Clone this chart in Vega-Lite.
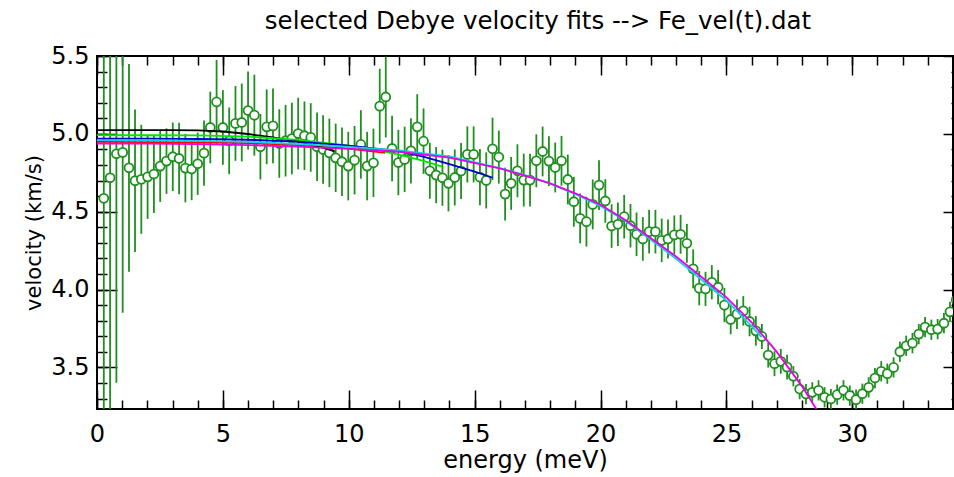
{
  "$schema": "https://vega.github.io/schema/vega-lite/v6.json",
  "width": 856,
  "height": 353,
  "autosize": {"type": "none"},
  "padding": {"left": 97, "top": 56, "right": 1, "bottom": 68},
  "background": "white",
  "title": {"text": "selected Debye velocity fits --> Fe_vel(t).dat", "font": "DejaVu Sans", "fontSize": 24.5, "fontWeight": "normal", "color": "black", "anchor": "middle", "offset": 10, "dx": 13},
  "config": {
    "view": {"stroke": "black", "strokeWidth": 2},
    "axis": {"domain": false, "grid": false, "tickColor": "black", "tickWidth": 1.5, "labelFont": "DejaVu Sans", "titleFont": "DejaVu Sans", "labelColor": "black", "titleColor": "black", "titleFontWeight": "normal", "labelFlush": false, "labelOverlap": false, "zindex": 1}
  },
  "datasets": {
    "pts": [
      {"E":0.27,"v":4.586,"lo":2.986,"hi":6.186},
      {"E":0.52,"v":4.718,"lo":3.118,"hi":6.318},
      {"E":0.77,"v":4.872,"lo":3.402,"hi":6.342},
      {"E":1.02,"v":4.881,"lo":3.851,"hi":5.911},
      {"E":1.27,"v":4.782,"lo":4.115,"hi":5.449},
      {"E":1.51,"v":4.699,"lo":4.242,"hi":5.156},
      {"E":1.76,"v":4.708,"lo":4.358,"hi":5.058},
      {"E":2.01,"v":4.724,"lo":4.454,"hi":4.994},
      {"E":2.26,"v":4.742,"lo":4.492,"hi":4.992},
      {"E":2.51,"v":4.793,"lo":4.563,"hi":5.023},
      {"E":2.76,"v":4.825,"lo":4.615,"hi":5.035},
      {"E":3.01,"v":4.853,"lo":4.633,"hi":5.073},
      {"E":3.26,"v":4.842,"lo":4.612,"hi":5.072},
      {"E":3.51,"v":4.78,"lo":4.56,"hi":5.0},
      {"E":3.76,"v":4.774,"lo":4.574,"hi":4.974},
      {"E":4.0,"v":4.808,"lo":4.608,"hi":5.008},
      {"E":4.25,"v":4.876,"lo":4.666,"hi":5.086},
      {"E":4.5,"v":5.041,"lo":4.811,"hi":5.271},
      {"E":4.75,"v":5.205,"lo":4.935,"hi":5.475},
      {"E":5.0,"v":5.041,"lo":4.801,"hi":5.281},
      {"E":5.25,"v":4.955,"lo":4.741,"hi":5.169},
      {"E":5.5,"v":5.067,"lo":4.827,"hi":5.307},
      {"E":5.75,"v":5.073,"lo":4.823,"hi":5.323},
      {"E":6.0,"v":5.15,"lo":4.9,"hi":5.4},
      {"E":6.25,"v":5.12,"lo":4.86,"hi":5.38},
      {"E":6.49,"v":4.917,"lo":4.707,"hi":5.127},
      {"E":6.74,"v":5.045,"lo":4.805,"hi":5.285},
      {"E":6.99,"v":5.051,"lo":4.811,"hi":5.291},
      {"E":7.24,"v":4.938,"lo":4.718,"hi":5.158},
      {"E":7.49,"v":4.956,"lo":4.726,"hi":5.186},
      {"E":7.74,"v":4.97,"lo":4.74,"hi":5.2},
      {"E":7.99,"v":5.002,"lo":4.772,"hi":5.232},
      {"E":8.24,"v":4.988,"lo":4.768,"hi":5.208},
      {"E":8.49,"v":4.977,"lo":4.757,"hi":5.197},
      {"E":8.74,"v":4.917,"lo":4.697,"hi":5.137},
      {"E":8.98,"v":4.9,"lo":4.68,"hi":5.12},
      {"E":9.23,"v":4.878,"lo":4.658,"hi":5.098},
      {"E":9.48,"v":4.846,"lo":4.626,"hi":5.066},
      {"E":9.73,"v":4.821,"lo":4.601,"hi":5.041},
      {"E":9.98,"v":4.793,"lo":4.573,"hi":5.013},
      {"E":10.23,"v":4.831,"lo":4.611,"hi":5.051},
      {"E":10.48,"v":4.932,"lo":4.712,"hi":5.152},
      {"E":10.73,"v":4.793,"lo":4.573,"hi":5.013},
      {"E":10.98,"v":4.814,"lo":4.594,"hi":5.034},
      {"E":11.23,"v":5.178,"lo":4.938,"hi":5.418},
      {"E":11.47,"v":5.237,"lo":4.977,"hi":5.497},
      {"E":11.72,"v":4.906,"lo":4.696,"hi":5.116},
      {"E":11.97,"v":4.816,"lo":4.606,"hi":5.026},
      {"E":12.22,"v":4.836,"lo":4.626,"hi":5.046},
      {"E":12.47,"v":4.891,"lo":4.681,"hi":5.101},
      {"E":12.72,"v":5.045,"lo":4.835,"hi":5.255},
      {"E":12.97,"v":4.953,"lo":4.743,"hi":5.163},
      {"E":13.22,"v":4.763,"lo":4.583,"hi":4.943},
      {"E":13.47,"v":4.735,"lo":4.555,"hi":4.915},
      {"E":13.72,"v":4.718,"lo":4.538,"hi":4.898},
      {"E":13.96,"v":4.682,"lo":4.502,"hi":4.862},
      {"E":14.21,"v":4.72,"lo":4.54,"hi":4.9},
      {"E":14.46,"v":4.761,"lo":4.581,"hi":4.941},
      {"E":14.71,"v":4.868,"lo":4.688,"hi":5.048},
      {"E":14.96,"v":4.868,"lo":4.688,"hi":5.048},
      {"E":15.21,"v":4.722,"lo":4.542,"hi":4.902},
      {"E":15.46,"v":4.701,"lo":4.521,"hi":4.881},
      {"E":15.71,"v":4.904,"lo":4.704,"hi":5.104},
      {"E":15.96,"v":4.851,"lo":4.681,"hi":5.021},
      {"E":16.21,"v":4.613,"lo":4.443,"hi":4.783},
      {"E":16.45,"v":4.682,"lo":4.512,"hi":4.852},
      {"E":16.7,"v":4.763,"lo":4.593,"hi":4.933},
      {"E":16.95,"v":4.703,"lo":4.533,"hi":4.873},
      {"E":17.2,"v":4.703,"lo":4.533,"hi":4.873},
      {"E":17.45,"v":4.827,"lo":4.657,"hi":4.997},
      {"E":17.7,"v":4.887,"lo":4.727,"hi":5.047},
      {"E":17.95,"v":4.825,"lo":4.665,"hi":4.985},
      {"E":18.2,"v":4.784,"lo":4.624,"hi":4.944},
      {"E":18.45,"v":4.827,"lo":4.667,"hi":4.987},
      {"E":18.7,"v":4.707,"lo":4.547,"hi":4.867},
      {"E":18.94,"v":4.564,"lo":4.404,"hi":4.724},
      {"E":19.19,"v":4.457,"lo":4.297,"hi":4.617},
      {"E":19.44,"v":4.436,"lo":4.276,"hi":4.596},
      {"E":19.69,"v":4.547,"lo":4.387,"hi":4.707},
      {"E":19.94,"v":4.671,"lo":4.511,"hi":4.831},
      {"E":20.19,"v":4.569,"lo":4.429,"hi":4.709},
      {"E":20.44,"v":4.408,"lo":4.268,"hi":4.548},
      {"E":20.69,"v":4.419,"lo":4.279,"hi":4.559},
      {"E":20.94,"v":4.468,"lo":4.328,"hi":4.608},
      {"E":21.19,"v":4.41,"lo":4.27,"hi":4.55},
      {"E":21.43,"v":4.355,"lo":4.215,"hi":4.495},
      {"E":21.68,"v":4.325,"lo":4.185,"hi":4.465},
      {"E":21.93,"v":4.372,"lo":4.232,"hi":4.512},
      {"E":22.18,"v":4.372,"lo":4.232,"hi":4.512},
      {"E":22.43,"v":4.316,"lo":4.176,"hi":4.456},
      {"E":22.68,"v":4.325,"lo":4.2,"hi":4.45},
      {"E":22.93,"v":4.351,"lo":4.226,"hi":4.476},
      {"E":23.18,"v":4.355,"lo":4.23,"hi":4.48},
      {"E":23.43,"v":4.297,"lo":4.172,"hi":4.422},
      {"E":23.68,"v":4.133,"lo":4.008,"hi":4.258},
      {"E":23.92,"v":4.009,"lo":3.899,"hi":4.119},
      {"E":24.17,"v":4.004,"lo":3.894,"hi":4.114},
      {"E":24.42,"v":4.047,"lo":3.937,"hi":4.157},
      {"E":24.67,"v":4.015,"lo":3.905,"hi":4.125},
      {"E":24.92,"v":3.9,"lo":3.79,"hi":4.01},
      {"E":25.17,"v":3.808,"lo":3.713,"hi":3.903},
      {"E":25.42,"v":3.842,"lo":3.747,"hi":3.937},
      {"E":25.67,"v":3.863,"lo":3.768,"hi":3.958},
      {"E":25.92,"v":3.795,"lo":3.7,"hi":3.89},
      {"E":26.17,"v":3.735,"lo":3.64,"hi":3.83},
      {"E":26.41,"v":3.699,"lo":3.619,"hi":3.779},
      {"E":26.66,"v":3.579,"lo":3.499,"hi":3.659},
      {"E":26.91,"v":3.524,"lo":3.444,"hi":3.604},
      {"E":27.16,"v":3.539,"lo":3.459,"hi":3.619},
      {"E":27.41,"v":3.502,"lo":3.422,"hi":3.582},
      {"E":27.66,"v":3.443,"lo":3.378,"hi":3.508},
      {"E":27.91,"v":3.361,"lo":3.296,"hi":3.426},
      {"E":28.16,"v":3.329,"lo":3.264,"hi":3.394},
      {"E":28.41,"v":3.34,"lo":3.275,"hi":3.405},
      {"E":28.66,"v":3.353,"lo":3.288,"hi":3.418},
      {"E":28.9,"v":3.308,"lo":3.243,"hi":3.373},
      {"E":29.15,"v":3.297,"lo":3.232,"hi":3.362},
      {"E":29.4,"v":3.325,"lo":3.26,"hi":3.39},
      {"E":29.65,"v":3.353,"lo":3.288,"hi":3.418},
      {"E":29.9,"v":3.319,"lo":3.254,"hi":3.384},
      {"E":30.15,"v":3.293,"lo":3.228,"hi":3.358},
      {"E":30.4,"v":3.331,"lo":3.266,"hi":3.396},
      {"E":30.65,"v":3.372,"lo":3.307,"hi":3.437},
      {"E":30.9,"v":3.432,"lo":3.367,"hi":3.497},
      {"E":31.15,"v":3.475,"lo":3.41,"hi":3.54},
      {"E":31.39,"v":3.46,"lo":3.395,"hi":3.525},
      {"E":31.64,"v":3.5,"lo":3.435,"hi":3.565},
      {"E":31.89,"v":3.601,"lo":3.536,"hi":3.666},
      {"E":32.14,"v":3.639,"lo":3.574,"hi":3.704},
      {"E":32.39,"v":3.656,"lo":3.591,"hi":3.721},
      {"E":32.64,"v":3.714,"lo":3.649,"hi":3.779},
      {"E":32.89,"v":3.759,"lo":3.694,"hi":3.824},
      {"E":33.14,"v":3.742,"lo":3.677,"hi":3.807},
      {"E":33.39,"v":3.746,"lo":3.681,"hi":3.811},
      {"E":33.64,"v":3.784,"lo":3.719,"hi":3.849},
      {"E":33.88,"v":3.857,"lo":3.792,"hi":3.922},
      {"E":34.13,"v":3.934,"lo":3.869,"hi":3.999}
    ],
    "fits": [
      {"fit":"red","E":0,"v":4.948},{"fit":"red","E":2,"v":4.947},{"fit":"red","E":4,"v":4.945},{"fit":"red","E":6,"v":4.94},{"fit":"red","E":8,"v":4.928},{"fit":"red","E":10,"v":4.905},{"fit":"red","E":11.45,"v":4.878},
      {"fit":"black","E":0,"v":5.024},{"fit":"black","E":3,"v":5.024},{"fit":"black","E":4,"v":5.022},{"fit":"black","E":5,"v":5.015},{"fit":"black","E":6,"v":4.999},{"fit":"black","E":7,"v":4.977},{"fit":"black","E":8,"v":4.948},{"fit":"black","E":9,"v":4.91},{"fit":"black","E":9.44,"v":4.887},
      {"fit":"green","E":0,"v":4.992},{"fit":"green","E":2,"v":4.991},{"fit":"green","E":4,"v":4.99},{"fit":"green","E":6,"v":4.982},{"fit":"green","E":8,"v":4.962},{"fit":"green","E":10,"v":4.925},{"fit":"green","E":11,"v":4.9},{"fit":"green","E":12,"v":4.866},{"fit":"green","E":13,"v":4.825},{"fit":"green","E":13.7,"v":4.79},
      {"fit":"blue","E":0,"v":4.97},{"fit":"blue","E":2,"v":4.969},{"fit":"blue","E":4,"v":4.967},{"fit":"blue","E":6,"v":4.962},{"fit":"blue","E":8,"v":4.95},{"fit":"blue","E":10,"v":4.925},{"fit":"blue","E":12,"v":4.889},{"fit":"blue","E":13,"v":4.852},{"fit":"blue","E":14,"v":4.806},{"fit":"blue","E":15,"v":4.757},{"fit":"blue","E":15.72,"v":4.718},
      {"fit":"cyan","E":0,"v":4.96},{"fit":"cyan","E":2,"v":4.959},{"fit":"cyan","E":4,"v":4.955},{"fit":"cyan","E":6,"v":4.948},{"fit":"cyan","E":8,"v":4.935},{"fit":"cyan","E":10,"v":4.917},{"fit":"cyan","E":12,"v":4.894},{"fit":"cyan","E":14,"v":4.855},{"fit":"cyan","E":16,"v":4.78},{"fit":"cyan","E":17,"v":4.735},{"fit":"cyan","E":18,"v":4.68},{"fit":"cyan","E":19,"v":4.613},{"fit":"cyan","E":20,"v":4.537},{"fit":"cyan","E":21,"v":4.44},{"fit":"cyan","E":22,"v":4.32},{"fit":"cyan","E":23,"v":4.198},{"fit":"cyan","E":24,"v":4.065},{"fit":"cyan","E":25,"v":3.93},{"fit":"cyan","E":26,"v":3.765},{"fit":"cyan","E":26.4,"v":3.695},
      {"fit":"magenta","E":0,"v":4.938},{"fit":"magenta","E":2,"v":4.937},{"fit":"magenta","E":4,"v":4.934},{"fit":"magenta","E":6,"v":4.928},{"fit":"magenta","E":8,"v":4.918},{"fit":"magenta","E":10,"v":4.903},{"fit":"magenta","E":12,"v":4.885},{"fit":"magenta","E":14,"v":4.848},{"fit":"magenta","E":16,"v":4.778},{"fit":"magenta","E":17,"v":4.732},{"fit":"magenta","E":18,"v":4.682},{"fit":"magenta","E":19,"v":4.618},{"fit":"magenta","E":20,"v":4.545},{"fit":"magenta","E":21,"v":4.445},{"fit":"magenta","E":22,"v":4.33},{"fit":"magenta","E":23,"v":4.212},{"fit":"magenta","E":24,"v":4.082},{"fit":"magenta","E":25,"v":3.95},{"fit":"magenta","E":26,"v":3.79},{"fit":"magenta","E":27,"v":3.6},{"fit":"magenta","E":28,"v":3.38},{"fit":"magenta","E":28.6,"v":3.225},{"fit":"magenta","E":28.8,"v":3.17}
    ]
  },
  "resolve": {"axis": {"x": "independent", "y": "independent"}},
  "layer": [
    {
      "data": {"name": "pts"},
      "mark": {"type": "rule", "color": "#1f8f1f", "strokeWidth": 1.8, "clip": true},
      "encoding": {
        "x": {"field": "E", "type": "quantitative", "scale": {"domain": [0, 34], "nice": false, "zero": false},
              "axis": {"orient": "bottom", "values": [0, 5, 10, 15, 20, 25, 30], "tickSize": -19, "labelPadding": 32, "labelFontSize": 24, "title": "energy (meV)", "titleFontSize": 24, "titlePadding": 2}},
        "y": {"field": "lo", "type": "quantitative", "scale": {"domain": [3.233, 5.5], "nice": false, "zero": false},
              "axis": {"orient": "left", "values": [3.5, 4.0, 4.5, 5.0, 5.5], "format": ".1f", "tickSize": -20, "labelPadding": 28, "labelFontSize": 24, "title": "velocity (km/s)", "titleFontSize": 21, "titlePadding": 6}},
        "y2": {"field": "hi"}
      }
    },
    {
      "data": {"name": "pts"},
      "mark": {"type": "point", "shape": "circle", "filled": true, "fill": "white", "stroke": "#1f8f1f", "strokeWidth": 1.8, "size": 80, "opacity": 1, "clip": true},
      "encoding": {
        "x": {"field": "E", "type": "quantitative", "scale": {"domain": [0, 34], "nice": false, "zero": false},
              "axis": {"orient": "bottom", "values": [0,1,2,3,4,5,6,7,8,9,10,11,12,13,14,15,16,17,18,19,20,21,22,23,24,25,26,27,28,29,30,31,32,33,34], "tickSize": -9, "labels": false, "title": null}},
        "y": {"field": "v", "type": "quantitative", "scale": {"domain": [3.233, 5.5], "nice": false, "zero": false},
              "axis": {"orient": "left", "values": [3.3,3.4,3.5,3.6,3.7,3.8,3.9,4.0,4.1,4.2,4.3,4.4,4.5,4.6,4.7,4.8,4.9,5.0,5.1,5.2,5.3,5.4,5.5], "tickSize": -10, "labels": false, "title": null}}
      }
    },
    {
      "data": {"name": "fits"},
      "transform": [{"filter": "datum.fit === 'red'"}],
      "mark": {"type": "line", "color": "#ff0000", "strokeWidth": 1.8, "clip": true},
      "encoding": {
        "x": {"field": "E", "type": "quantitative", "scale": {"domain": [0, 34], "nice": false, "zero": false},
              "axis": {"orient": "top", "values": [0, 5, 10, 15, 20, 25, 30], "tickSize": -19, "labels": false, "title": null}},
        "y": {"field": "v", "type": "quantitative", "scale": {"domain": [3.233, 5.5], "nice": false, "zero": false},
              "axis": {"orient": "right", "values": [3.5, 4.0, 4.5, 5.0, 5.5], "tickSize": -10, "labels": false, "title": null}}
      }
    },
    {
      "data": {"name": "fits"},
      "transform": [{"filter": "datum.fit === 'black'"}],
      "mark": {"type": "line", "color": "#000000", "strokeWidth": 1.8, "clip": true},
      "encoding": {
        "x": {"field": "E", "type": "quantitative", "scale": {"domain": [0, 34], "nice": false, "zero": false},
              "axis": {"orient": "top", "values": [0,1,2,3,4,5,6,7,8,9,10,11,12,13,14,15,16,17,18,19,20,21,22,23,24,25,26,27,28,29,30,31,32,33,34], "tickSize": -9, "labels": false, "title": null}},
        "y": {"field": "v", "type": "quantitative", "scale": {"domain": [3.233, 5.5], "nice": false, "zero": false},
              "axis": {"orient": "right", "values": [3.3,3.4,3.5,3.6,3.7,3.8,3.9,4.0,4.1,4.2,4.3,4.4,4.5,4.6,4.7,4.8,4.9,5.0,5.1,5.2,5.3,5.4,5.5], "tickSize": -2, "labels": false, "title": null}}
      }
    },
    {
      "data": {"name": "fits"},
      "transform": [{"filter": "datum.fit === 'green'"}],
      "mark": {"type": "line", "color": "#00e600", "strokeWidth": 1.8, "clip": true},
      "encoding": {
        "x": {"field": "E", "type": "quantitative", "scale": {"domain": [0, 34], "nice": false, "zero": false}, "axis": null},
        "y": {"field": "v", "type": "quantitative", "scale": {"domain": [3.233, 5.5], "nice": false, "zero": false}, "axis": null}
      }
    },
    {
      "data": {"name": "fits"},
      "transform": [{"filter": "datum.fit === 'blue'"}],
      "mark": {"type": "line", "color": "#0000d0", "strokeWidth": 1.8, "clip": true},
      "encoding": {
        "x": {"field": "E", "type": "quantitative", "scale": {"domain": [0, 34], "nice": false, "zero": false}, "axis": null},
        "y": {"field": "v", "type": "quantitative", "scale": {"domain": [3.233, 5.5], "nice": false, "zero": false}, "axis": null}
      }
    },
    {
      "data": {"name": "fits"},
      "transform": [{"filter": "datum.fit === 'cyan'"}],
      "mark": {"type": "line", "color": "#12d2e0", "strokeWidth": 1.8, "clip": true},
      "encoding": {
        "x": {"field": "E", "type": "quantitative", "scale": {"domain": [0, 34], "nice": false, "zero": false}, "axis": null},
        "y": {"field": "v", "type": "quantitative", "scale": {"domain": [3.233, 5.5], "nice": false, "zero": false}, "axis": null}
      }
    },
    {
      "data": {"name": "fits"},
      "transform": [{"filter": "datum.fit === 'magenta'"}],
      "mark": {"type": "line", "color": "#e800e8", "strokeWidth": 1.8, "clip": true},
      "encoding": {
        "x": {"field": "E", "type": "quantitative", "scale": {"domain": [0, 34], "nice": false, "zero": false}, "axis": null},
        "y": {"field": "v", "type": "quantitative", "scale": {"domain": [3.233, 5.5], "nice": false, "zero": false}, "axis": null}
      }
    }
  ]
}
